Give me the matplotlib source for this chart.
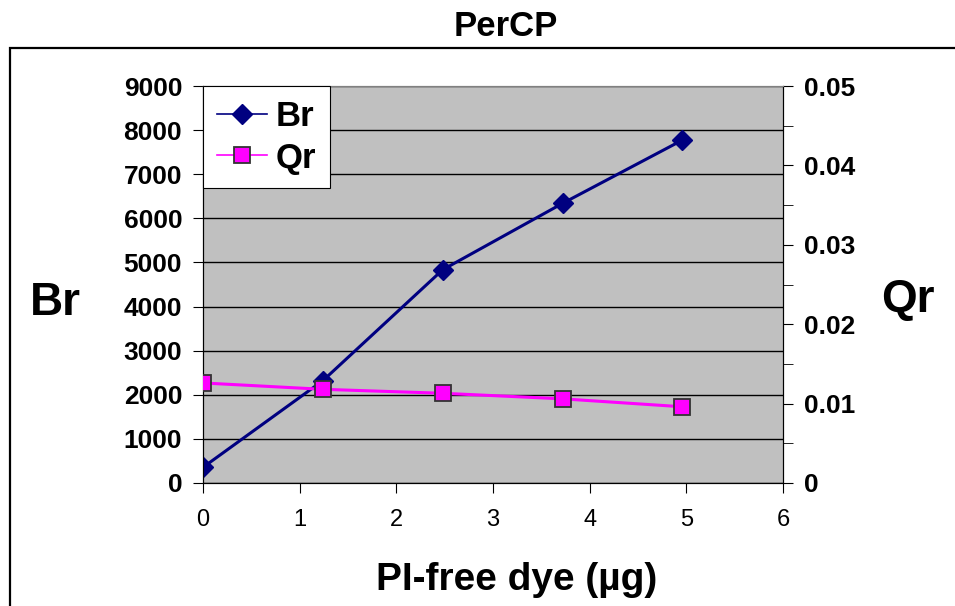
import numpy as np
import matplotlib.pyplot as plt
from matplotlib.patches import Rectangle

plt.rcParams['font.family'] = ['Liberation Sans', 'DejaVu Sans']

dye = [0, 1.24, 2.48, 3.72, 4.96]
br = [355, 2320, 4835, 6340, 7775]
qr = [0.0126, 0.0118, 0.0113, 0.0106, 0.0096]

fig = plt.figure(figsize=(9.55, 6.06), dpi=100)
ax = fig.add_axes([203/955, 1 - 483/606, 580/955, 397/606])
ax.set_facecolor('#C0C0C0')

# border round the chart (cut off at right and bottom)
fig.patches.append(Rectangle((10/955, -0.1), 1.0, 1.1 - 48/606,
                             transform=fig.transFigure, fill=False,
                             edgecolor='black', linewidth=1.6, zorder=0))

ax.set_xlim(0, 6)
ax.set_ylim(0, 9000)
ax.set_yticks(np.arange(0, 9001, 1000))
ax.set_xticks(range(0, 7))
ax.grid(axis='y', color='black', linewidth=1)
ax.set_axisbelow(True)

l1, = ax.plot(dye, br, color='#000080', linewidth=2.2, marker='D',
              markersize=10, markerfacecolor='#000080', markeredgecolor='#000080',
              label='Br', zorder=3)

ax2 = ax.twinx()
ax2.set_ylim(0, 0.05)
ax2.set_yticks([0, 0.01, 0.02, 0.03, 0.04, 0.05])
ax2.set_yticklabels(['0', '0.01', '0.02', '0.03', '0.04', '0.05'])
ax2.set_yticks(np.arange(0.005, 0.05, 0.01), minor=True)
l2, = ax2.plot(dye, qr, color='#FF00FF', linewidth=2.2, marker='s',
               markersize=11, markerfacecolor='#FF00FF', markeredgecolor='#333333',
               markeredgewidth=1.3, label='Qr', zorder=3)

for a in (ax, ax2):
    a.spines['top'].set_color('#808080')
    a.spines['left'].set_color('black')
    a.spines['right'].set_color('black')
    a.spines['bottom'].set_color('black')

ax.tick_params(axis='y', direction='out', length=7, labelsize=19, pad=8)
ax.tick_params(axis='x', direction='out', length=7, labelsize=17, pad=12)
ax2.tick_params(axis='y', which='both', direction='out', length=7, labelsize=19, pad=8)
for t in ax.get_yticklabels() + ax2.get_yticklabels():
    t.set_fontweight('bold')

ax.set_xlabel('PI-free dye (µg)', fontsize=28, fontweight='bold', va='baseline')
ax.xaxis.set_label_coords(0.541, -0.270)
ax.set_ylabel('Br', fontsize=33, fontweight='bold', rotation=0,
              ha='center', va='baseline')
ax.yaxis.set_label_coords(-0.255, 0.423)
ax2.set_ylabel('Qr', fontsize=33, fontweight='bold', rotation=0,
               ha='center', va='baseline')
ax2.yaxis.set_label_coords(1.215, 0.43)

fig.text(506/955, 1 - 36/606, 'PerCP', fontsize=25, fontweight='bold',
         ha='center', va='baseline')

leg = ax2.legend(handles=[l1, l2], loc='upper left', bbox_to_anchor=(0, 1),
                 borderaxespad=0, fancybox=False, framealpha=1, edgecolor='black',
                 prop={'size': 25, 'weight': 'bold'}, handlelength=1.45,
                 handletextpad=0.25, borderpad=0.4, labelspacing=0.25)
leg.get_frame().set_linewidth(0.8)
for h in leg.legend_handles:
    h.set_linewidth(1.2)

fig.savefig('out.png', dpi=100)
